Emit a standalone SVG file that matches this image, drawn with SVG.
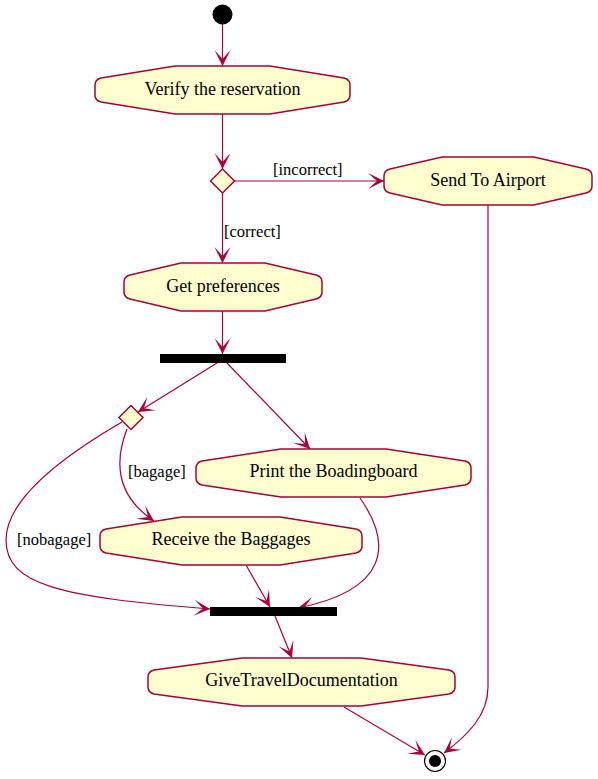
<svg xmlns="http://www.w3.org/2000/svg" width="598" height="779" viewBox="0 0 598 779">
<style>
.act{fill:#FEFECE;stroke:#A80036;stroke-width:1.5}
.dia{fill:#FEFECE;stroke:#A80036;stroke-width:1.5}
.bar{fill:#000000}
.t{font-family:"Liberation Serif","Times New Roman",serif;font-size:18px;fill:#000000;text-anchor:middle}
.lbl{font-family:"Liberation Serif","Times New Roman",serif;font-size:16.5px;fill:#000000}
.edge{fill:none;stroke:#A80036;stroke-width:1.2;marker-end:url(#arr)}
</style>
<defs>
<marker id="arr" markerUnits="userSpaceOnUse" orient="auto" markerWidth="20" markerHeight="20" viewBox="-18 -10 20 20" refX="0" refY="0">
<path d="M0,0 L-16,-8 L-7,0 L-16,8 Z" fill="#A80036"/>
</marker>
</defs>
<rect width="598" height="779" fill="#FFFFFF"/>
<g id="connectors">
<path class="edge" d="M222.5,24 L222.5,66"/>
<path class="edge" d="M222.5,114 L222.5,169"/>
<path class="edge" d="M234.5,181 L384,181"/>
<path class="edge" d="M222.5,193 L222.5,263"/>
<path class="edge" d="M488,205 L488,687 C488,715 468,735 444,753"/>
<path class="edge" d="M222.5,311 L222.5,354"/>
<path class="edge" d="M217,363 L138,412"/>
<path class="edge" d="M227,363 L310,449"/>
<path class="edge" d="M127,429 C115,460 115,495 154,521"/>
<path class="edge" d="M122,422 C60,458 6,500 6,540 C6,585 60,597 210,609"/>
<path class="edge" d="M246,565 L270,607"/>
<path class="edge" d="M360,498 C393,545 388,590 298,608"/>
<path class="edge" d="M275,616 L292,658"/>
<path class="edge" d="M344,707 L425,755"/>
<text class="lbl" x="273" y="175">[incorrect]</text>
<text class="lbl" x="224" y="237">[correct]</text>
<text class="lbl" x="128" y="477">[bagage]</text>
<text class="lbl" x="17" y="545">[nobagage]</text>
</g>
<g id="start"><circle cx="222.5" cy="14.5" r="10" fill="#000000"/></g>
<g id="verify">
<path class="act" d="M175,66 L270,66 L344,78 Q350,79.5 350,85 L350,95 Q350,100.5 344,102 L270,114 L175,114 L101,102 Q95,100.5 95,95 L95,85 Q95,79.5 101,78 Z"/>
<text class="t" x="222.5" y="95">Verify the reservation</text>
</g>
<g id="decision1"><polygon class="dia" points="222.5,169 234.5,181 222.5,193 210.5,181"/></g>
<g id="sendToAirport">
<path class="act" d="M442,157 L534,157 L586,169 Q592,170.5 592,176 L592,186 Q592,191.5 586,193 L534,205 L442,205 L390,193 Q384,191.5 384,186 L384,176 Q384,170.5 390,169 Z"/>
<text class="t" x="488" y="186">Send To Airport</text>
</g>
<g id="getPreferences">
<path class="act" d="M181,263 L265,263 L316,275 Q322,276.5 322,282 L322,292 Q322,297.5 316,299 L265,311 L181,311 L130,299 Q124,297.5 124,292 L124,282 Q124,276.5 130,275 Z"/>
<text class="t" x="223" y="292">Get preferences</text>
</g>
<g id="fork"><rect class="bar" x="160" y="354" width="126" height="9"/></g>
<g id="decision2"><polygon class="dia" points="131,405.5 143,417.5 131,429.5 119,417.5"/></g>
<g id="printBoardingboard">
<path class="act" d="M281,449 L386,449 L465,461 Q471,462.5 471,468 L471,478 Q471,483.5 465,485 L386,497 L281,497 L202,485 Q196,483.5 196,478 L196,468 Q196,462.5 202,461 Z"/>
<text class="t" x="333.5" y="477">Print the Boadingboard</text>
</g>
<g id="receiveBaggages">
<path class="act" d="M182,517 L280,517 L356,529 Q362,530.5 362,536 L362,546 Q362,551.5 356,553 L280,565 L182,565 L106,553 Q100,551.5 100,546 L100,536 Q100,530.5 106,529 Z"/>
<text class="t" x="231" y="545">Receive the Baggages</text>
</g>
<g id="join"><rect class="bar" x="210" y="607" width="127" height="9"/></g>
<g id="giveTravelDocumentation">
<path class="act" d="M242,658 L361,658 L449,670 Q455,671.5 455,677 L455,687 Q455,692.5 449,694 L361,706 L242,706 L154,694 Q148,692.5 148,687 L148,677 Q148,671.5 154,670 Z"/>
<text class="t" x="301.5" y="686">GiveTravelDocumentation</text>
</g>
<g id="end">
<circle cx="435" cy="761" r="10.5" fill="#FFFFFF" stroke="#000000" stroke-width="1.2"/>
<circle cx="435" cy="761" r="6" fill="#000000"/>
</g>
</svg>
